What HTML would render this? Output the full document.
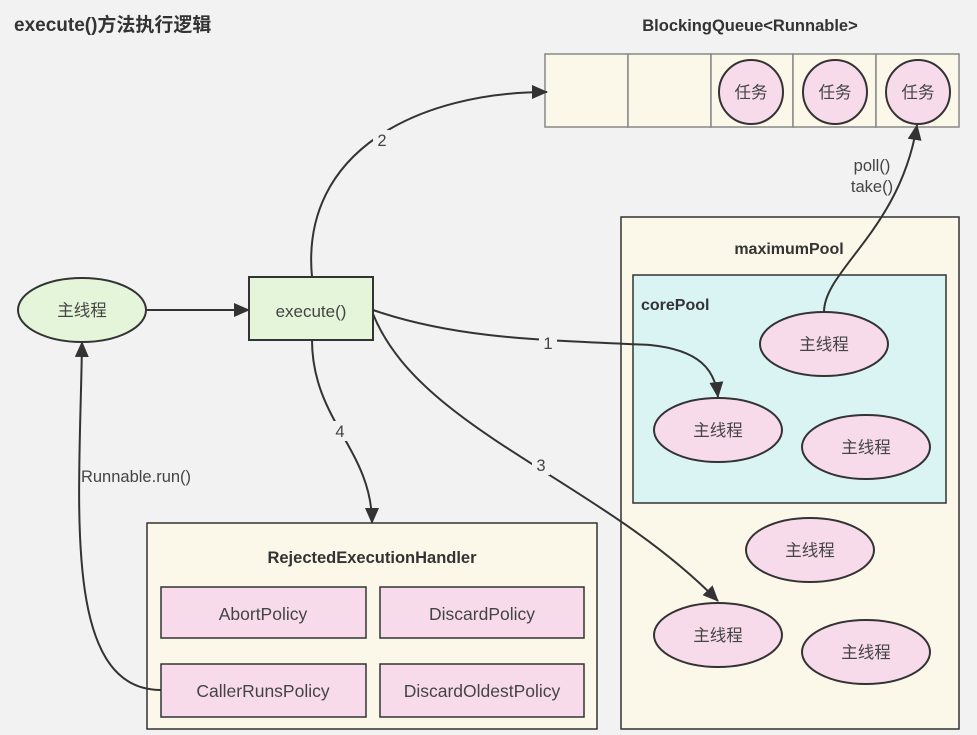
<!DOCTYPE html>
<html><head><meta charset="utf-8"><style>
html,body{margin:0;padding:0;background:#f2f2f2;}
svg{display:block;font-family:"Liberation Sans","Noto Sans CJK SC",sans-serif;}
</style></head><body>
<svg width="977" height="735" viewBox="0 0 977 735" xmlns="http://www.w3.org/2000/svg">
<defs>
<marker id="b" markerWidth="16" markerHeight="14" refX="15" refY="7" orient="auto" markerUnits="userSpaceOnUse"><path d="M0,0 L16,7 L0,14 z" fill="#333"/></marker></defs>
<rect width="977" height="735" fill="#f2f2f2"/>
<text x="14" y="31" font-size="19" font-weight="bold" fill="#333">execute()方法执行逻辑</text>
<text x="750" y="31" font-size="16.5" font-weight="bold" fill="#333" text-anchor="middle">BlockingQueue&lt;Runnable&gt;</text>
<g fill="#fbf8ea" stroke="#888" stroke-width="1.5">
<rect x="545" y="54" width="83" height="73"/><rect x="628" y="54" width="83" height="73"/><rect x="711" y="54" width="82" height="73"/><rect x="793" y="54" width="83" height="73"/><rect x="876" y="54" width="83" height="73"/></g>
<g fill="#f8dbeb" stroke="#333" stroke-width="2">
<circle cx="751" cy="92" r="32"/><circle cx="835" cy="92" r="32"/><circle cx="918" cy="92" r="32"/></g>
<g font-size="16.5" fill="#444" text-anchor="middle">
<text x="751" y="98">任务</text><text x="835" y="98">任务</text><text x="918" y="98">任务</text></g>
<rect x="621" y="217" width="338" height="512" fill="#fbf8ea" stroke="#333" stroke-width="1.5"/>
<text x="789" y="254" font-size="16" font-weight="bold" fill="#333" text-anchor="middle">maximumPool</text>
<rect x="633" y="275" width="313" height="228" fill="#daf4f3" stroke="#333" stroke-width="1.5"/>
<text x="641" y="310" font-size="16" font-weight="bold" fill="#333">corePool</text>
<rect x="147" y="523" width="450" height="206" fill="#fbf8ea" stroke="#333" stroke-width="1.5"/>
<text x="372" y="563" font-size="16.5" font-weight="bold" fill="#333" text-anchor="middle">RejectedExecutionHandler</text>
<g fill="#f8dbeb" stroke="#333" stroke-width="1.5">
<rect x="161" y="587" width="205" height="51"/><rect x="380" y="587" width="204" height="51"/>
<rect x="161" y="664" width="205" height="53"/><rect x="380" y="664" width="204" height="53"/></g>
<g font-size="17.5" fill="#444" text-anchor="middle">
<text x="263" y="620">AbortPolicy</text><text x="482" y="620">DiscardPolicy</text>
<text x="263" y="697">CallerRunsPolicy</text><text x="482" y="697">DiscardOldestPolicy</text></g>
<ellipse cx="82" cy="310" rx="64" ry="32" fill="#e4f5da" stroke="#333" stroke-width="2"/>
<text x="82" y="316" font-size="16.5" fill="#444" text-anchor="middle">主线程</text>
<rect x="249" y="277" width="124" height="63" fill="#e4f5da" stroke="#333" stroke-width="2"/>
<text x="311" y="317" font-size="17" fill="#444" text-anchor="middle">execute()</text>
<g fill="#f8dbeb" stroke="#333" stroke-width="2">
<ellipse cx="824" cy="344" rx="64" ry="32"/><ellipse cx="718" cy="430" rx="64" ry="32"/><ellipse cx="866" cy="447" rx="64" ry="32"/>
<ellipse cx="810" cy="550" rx="64" ry="32"/><ellipse cx="718" cy="635" rx="64" ry="32"/><ellipse cx="866" cy="652" rx="64" ry="32"/></g>
<g font-size="16.5" fill="#444" text-anchor="middle">
<text x="824" y="350">主线程</text><text x="718" y="436">主线程</text><text x="866" y="453">主线程</text>
<text x="810" y="556">主线程</text><text x="718" y="641">主线程</text><text x="866" y="658">主线程</text></g>
<g fill="none" stroke="#333" stroke-width="2" marker-end="url(#b)">
<path d="M147,310 L249,310"/>
<path d="M312,277 C300,150 420,92 547,92"/>
<path d="M373,310 C460,340 550,340 650,345 C700,350 715,370 718,397"/>
<path d="M373,314 C420,430 600,480 718,601"/>
<path d="M312,340 C312,420 372,450 372,523"/>
<path d="M161,690 C60,690 80,500 82,342"/>
<path d="M824,312 C824,270 900,230 917,125"/>
</g>
<g font-size="16.5" fill="#444" text-anchor="middle">
<rect x="373" y="130" width="18" height="20" fill="#f2f2f2"/><text x="382" y="146">2</text>
<rect x="539" y="333" width="18" height="20" fill="#f2f2f2"/><text x="548" y="349">1</text>
<rect x="532" y="455" width="18" height="20" fill="#f2f2f2"/><text x="541" y="471">3</text>
<rect x="331" y="421" width="18" height="20" fill="#f2f2f2"/><text x="340" y="437">4</text>
<text x="136" y="482">Runnable.run()</text>
<text x="872" y="171">poll()</text><text x="872" y="192">take()</text></g>
</svg>
</body></html>
